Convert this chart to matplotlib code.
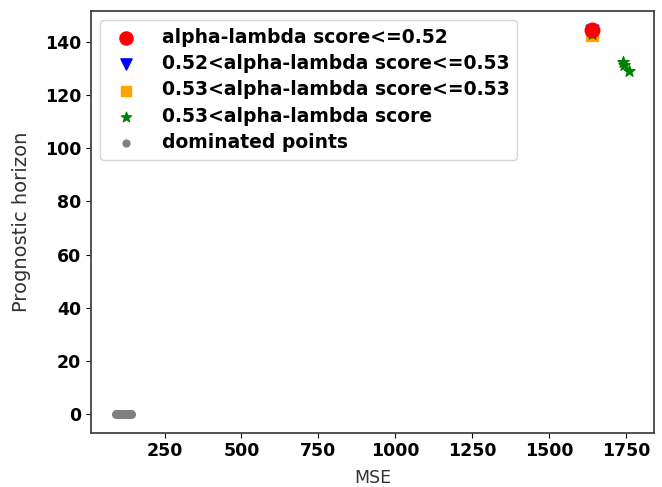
import matplotlib.pyplot as plt

# Pareto front points grouped by alpha-lambda score
red_mse = [1639]
red_ph = [144.4]
blue_mse = [1639]
blue_ph = [144]
orange_mse = [1639]
orange_ph = [142.6]
green_mse = [1641, 1739, 1745, 1759]
green_ph = [143, 132.6, 131.4, 129.2]

# dominated solutions
dom_mse = [93, 99, 105, 111, 117, 123, 129, 135, 140]
dom_ph = [0.3, 0.3, 0.3, 0.3, 0.3, 0.3, 0.3, 0.3, 0.3]

plt.rcParams['font.family'] = 'DejaVu Sans'
fig = plt.figure(figsize=(6.62, 4.87), dpi=100)
ax = fig.add_axes([0.137, 0.1115, 0.8514, 0.866])

ax.scatter(red_mse, red_ph, c='red', marker='o', s=110, label='alpha-lambda score<=0.52', zorder=3)
ax.scatter(blue_mse, blue_ph, c='blue', marker='v', s=80, label='0.52<alpha-lambda score<=0.53', zorder=2)
ax.scatter(orange_mse, orange_ph, c='orange', marker='s', s=70, label='0.53<alpha-lambda score<=0.53', zorder=2)
ax.scatter(green_mse, green_ph, c='green', marker='*', s=70, label='0.53<alpha-lambda score', zorder=2.5)
ax.scatter(dom_mse, dom_ph, c='grey', marker='o', s=30, label='dominated points', zorder=2)

ax.set_xticks([250, 500, 750, 1000, 1250, 1500, 1750])
ax.set_yticks([0, 20, 40, 60, 80, 100, 120, 140])
for lab in ax.get_xticklabels() + ax.get_yticklabels():
    lab.set_fontweight('bold')
    lab.set_fontsize(12.5)
ax.set_xlabel('MSE', fontsize=12.5, color='#333333', labelpad=6)
ax.set_ylabel('Prognostic horizon', fontsize=14, color='#333333', labelpad=10)

for s in ax.spines.values():
    s.set_color('#444444')
    s.set_linewidth(1.3)

ax.legend(loc='upper left', prop={'weight': 'bold', 'size': 13.5}, markerscale=0.9,
          labelspacing=0.39, handletextpad=0.9, borderaxespad=0.5)

fig.savefig('out.png', dpi=100)
